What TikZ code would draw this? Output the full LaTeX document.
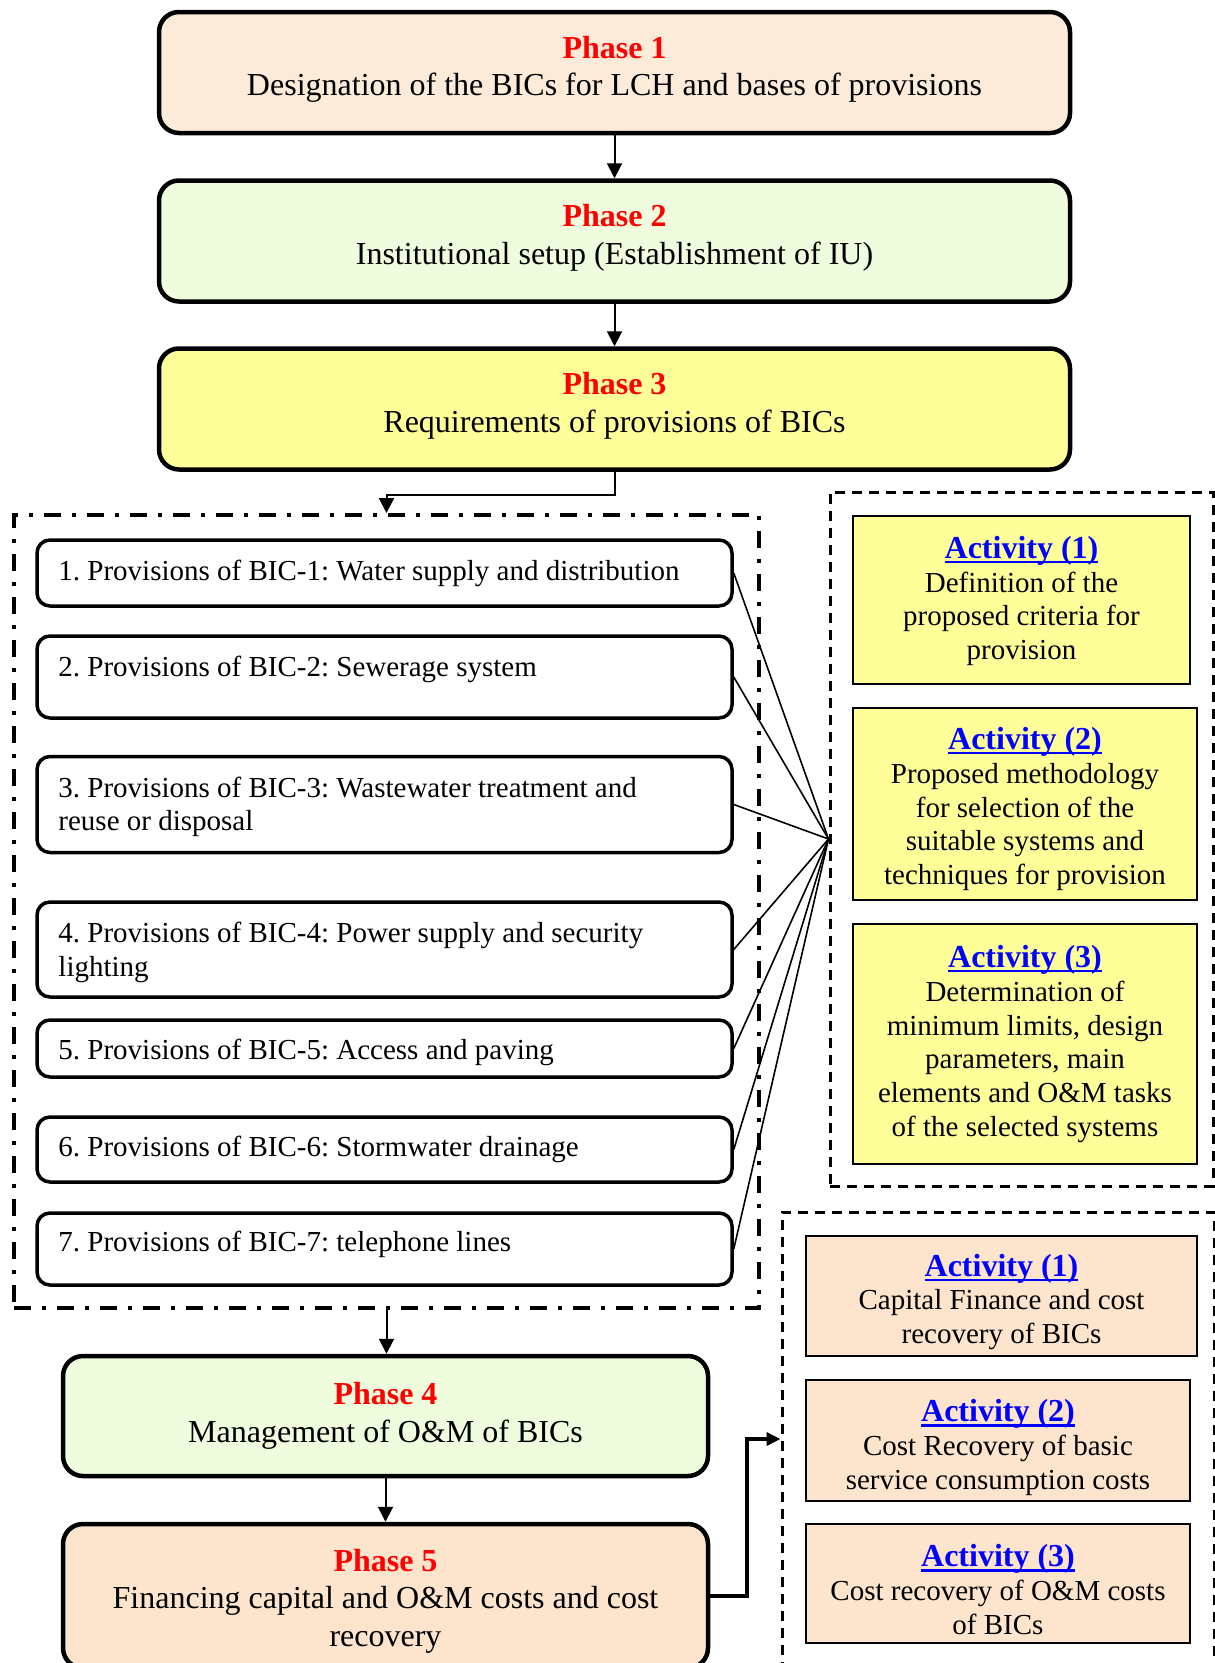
\documentclass[tikz,border=0pt]{standalone}
\usepackage{fontspec}
\setmainfont{Liberation Serif}
\usetikzlibrary{arrows.meta,calc}

\definecolor{peachfill}{RGB}{253,235,217}
\definecolor{mintfill}{RGB}{239,253,222}
\definecolor{lemonfill}{RGB}{255,255,153}
\definecolor{apricotfill}{RGB}{253,228,204}
\definecolor{phasered}{RGB}{255,0,0}
\definecolor{actblue}{RGB}{0,0,255}

% underlined bold blue heading for the activity boxes
\newsavebox\actulbox
\newcommand\acthead[1]{{\fontsize{32}{34}\selectfont\bfseries\color{actblue}%
  \sbox\actulbox{#1}\rlap{\rule[-5pt]{\wd\actulbox}{2.5pt}}\usebox\actulbox}}
\newcommand\phasehead[1]{{\bfseries\color{phasered}#1}}

\begin{document}
\frenchspacing
\begin{tikzpicture}[x=1pt,y=-1pt,
  phasebox/.style={draw, line width=4.5pt, rounded corners=20pt, inner sep=0pt},
  phasetext/.style={align=center, inner sep=0pt, font=\fontsize{32}{37.5}\selectfont},
  bicbox/.style={draw, line width=3.5pt, rounded corners=13pt, fill=white, inner sep=0pt},
  bictext/.style={anchor=north west, inner sep=0pt, align=left,
    font=\fontsize{29}{33.5}\selectfont},
  actbox/.style={draw, line width=2pt, inner sep=0pt},
  acttext/.style={align=center, inner sep=0pt, font=\fontsize{29}{33.8}\selectfont},
  dotgroup/.style={draw, line width=4pt, inner sep=0pt,
    dash pattern=on 17pt off 11pt on 4pt off 11pt},
  dashgroup/.style={draw, line width=3pt, inner sep=0pt, dash pattern=on 10pt off 7pt},
  arr/.style={line width=2pt, -{Triangle[length=15pt,width=15pt]}},
  thickarr/.style={line width=4pt, -{Triangle[length=14pt,width=13pt]}},
  fanline/.style={line width=1.6pt}
]
\fill[white] (0,0) rectangle (1215,1663);
\useasboundingbox (0,0) rectangle (1215,1663);

% main phases
\node[phasebox, fill=peachfill, minimum width=911pt, minimum height=121pt] (p1) at (614.5,72.5) {};
\node[phasetext] (p1t) at ($(p1)+(0,-3)$)
  {\phasehead{Phase 1}\\Designation of the BICs for LCH and bases of provisions};
\node[phasebox, fill=mintfill, minimum width=911pt, minimum height=121pt] (p2) at (614.5,241) {};
\node[phasetext] (p2t) at ($(p2)+(0,-3)$)
  {\phasehead{Phase 2}\\Institutional setup (Establishment of IU)};
\node[phasebox, fill=lemonfill, minimum width=911pt, minimum height=121pt] (p3) at (614.5,409) {};
\node[phasetext] (p3t) at ($(p3)+(0,-3)$)
  {\phasehead{Phase 3}\\Requirements of provisions of BICs};

% group of the seven BIC provisions
\node[dotgroup, minimum width=745pt, minimum height=793pt] (bicgroup) at (386.5,911.5) {};

\node[bicbox, minimum width=695pt, minimum height=66pt] (b1) at (384.5,573) {};
\node[bicbox, minimum width=695pt, minimum height=82pt] (b2) at (384.5,677) {};
\node[bicbox, minimum width=695pt, minimum height=96pt] (b3) at (384.5,804.5) {};
\node[bicbox, minimum width=695pt, minimum height=95pt] (b4) at (384.5,949.5) {};
\node[bicbox, minimum width=695pt, minimum height=57pt] (b5) at (384.5,1048.5) {};
\node[bicbox, minimum width=695pt, minimum height=65pt] (b6) at (384.5,1149.5) {};
\node[bicbox, minimum width=695pt, minimum height=72pt] (b7) at (384.5,1249) {};

\node[bictext] (b1t) at ($(b1.north west)+(23,22)$) {1. Provisions of BIC-1: Water supply and distribution};
\node[bictext] (b2t) at ($(b2.north west)+(23,22)$) {2. Provisions of BIC-2: Sewerage system};
\node[bictext] (b3t) at ($(b3.north west)+(23,22)$) {3. Provisions of BIC-3: Wastewater treatment and\\reuse or disposal};
\node[bictext] (b4t) at ($(b4.north west)+(23,22)$) {4. Provisions of BIC-4: Power supply and security\\lighting};
\node[bictext] (b5t) at ($(b5.north west)+(23,21)$) {5. Provisions of BIC-5: Access and paving};
\node[bictext] (b6t) at ($(b6.north west)+(23,21)$) {6. Provisions of BIC-6: Stormwater drainage};
\node[bictext] (b7t) at ($(b7.north west)+(23,20)$) {7. Provisions of BIC-7: telephone lines};

% activities of phase 3
\node[dashgroup, minimum width=383pt, minimum height=694pt] (actsA) at (1021.5,839) {};
\node[actbox, fill=lemonfill, minimum width=337pt, minimum height=168pt] (a1) at (1021.5,600) {};
\node[acttext] (a1t) at ($(a1)+(0,1)$)
  {\acthead{Activity (1)}\\Definition of the\\proposed criteria for\\provision};
\node[actbox, fill=lemonfill, minimum width=344pt, minimum height=192pt] (a2) at (1025,804) {};
\node[acttext] (a2t) at ($(a2)+(0,5)$)
  {\acthead{Activity (2)}\\Proposed methodology\\for selection of the\\suitable systems and\\techniques for provision};
\node[actbox, fill=lemonfill, minimum width=344pt, minimum height=240pt] (a3) at (1025,1044) {};
\node[acttext] (a3t) at (a3)
  {\acthead{Activity (3)}\\Determination of\\minimum limits, design\\parameters, main\\elements and O\&M tasks\\of the selected systems};

% later phases
\node[phasebox, fill=mintfill, minimum width=645pt, minimum height=120pt] (p4) at (385.5,1416) {};
\node[phasetext] (p4t) at (p4) {\phasehead{Phase 4}\\Management of O\&M of BICs};
\node[phasebox, fill=apricotfill, minimum width=645pt, minimum height=144pt] (p5) at (385.5,1596) {};
\node[phasetext] (p5t) at ($(p5)+(0,5)$)
  {\phasehead{Phase 5}\\Financing capital and O\&M costs and cost\\recovery};

% activities of phase 5
\node[dashgroup, minimum width=432pt, minimum height=454pt] (actsB) at (998,1439) {};
\node[actbox, fill=apricotfill, minimum width=391pt, minimum height=120pt] (c1) at (1001.5,1296) {};
\node[acttext] (c1t) at ($(c1)+(0,6)$)
  {\acthead{Activity (1)}\\Capital Finance and cost\\recovery of BICs};
\node[actbox, fill=apricotfill, minimum width=384pt, minimum height=121pt] (c2) at (998,1440.5) {};
\node[acttext] (c2t) at ($(c2)+(0,7)$)
  {\acthead{Activity (2)}\\Cost Recovery of basic\\service consumption costs};
\node[actbox, fill=apricotfill, minimum width=384pt, minimum height=119pt] (c3) at (998,1583.5) {};
\node[acttext] (c3t) at ($(c3)+(0,6)$)
  {\acthead{Activity (3)}\\Cost recovery of O\&M costs\\of BICs};

% connectors
\draw[arr] (p1.south) -- (p2.north);
\draw[arr] (p2.south) -- (p3.north);
\draw[arr] (p3.south) -- ++(0,23) -| (bicgroup.north);
\draw[arr] (bicgroup.south) -- (bicgroup.south |- p4.north);
\draw[arr] (p4.south) -- (p5.north);
\foreach \i in {1,...,7}
  \draw[fanline] (b\i.east) -- (actsA.west);
\draw[thickarr] (p5.east) -- ++(37,0) |- (actsB.west);
\end{tikzpicture}
\end{document}
